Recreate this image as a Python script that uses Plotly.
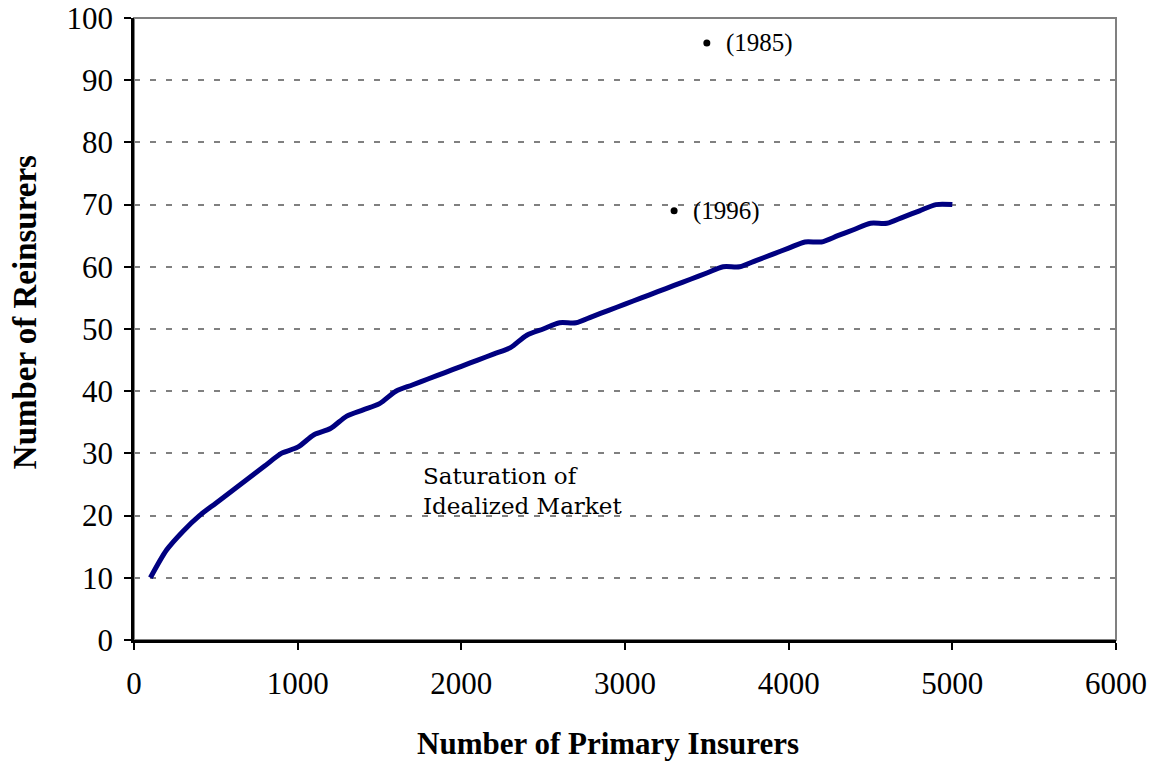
import plotly.graph_objects as go

# ---- data ----
primary_insurers = [100, 200, 300, 400, 500, 600, 700, 800, 900, 1000,
                    1100, 1200, 1300, 1400, 1500, 1600, 1700, 1800, 1900, 2000,
                    2100, 2200, 2300, 2400, 2500, 2600, 2700, 2800, 2900, 3000,
                    3100, 3200, 3300, 3400, 3500, 3600, 3700, 3800, 3900, 4000,
                    4100, 4200, 4300, 4400, 4500, 4600, 4700, 4800, 4900, 5000]
reinsurers = [10, 14.5, 17.5, 20, 22, 24, 26, 28, 30, 31,
              33, 34, 36, 37, 38, 40, 41, 42, 43, 44,
              45, 46, 47, 49, 50, 51, 51, 52, 53, 54,
              55, 56, 57, 58, 59, 60, 60, 61, 62, 63,
              64, 64, 65, 66, 67, 67, 68, 69, 70, 70]

hist_x = [3500, 3300]
hist_y = [96, 69]
hist_labels = ["(1985)", "(1996)"]

x_ticks = [0, 1000, 2000, 3000, 4000, 5000, 6000]
y_ticks = [0, 10, 20, 30, 40, 50, 60, 70, 80, 90, 100]

SERIF = "Liberation Serif"

fig = go.Figure()

fig.add_trace(go.Scatter(
    x=primary_insurers, y=reinsurers, mode="lines",
    line=dict(color="#000080", width=5, shape="spline", smoothing=0.8),
    showlegend=False, hoverinfo="skip"))

fig.add_trace(go.Scatter(
    x=hist_x, y=hist_y, mode="markers",
    marker=dict(color="black", size=7),
    showlegend=False, hoverinfo="skip"))

for hx, hy, lab in zip(hist_x, hist_y, hist_labels):
    fig.add_annotation(x=hx, y=hy, text=lab, showarrow=False,
                       xanchor="left", yanchor="middle", xshift=17,
                       font=dict(family=SERIF, size=25, color="black"))

fig.add_annotation(x=1755, y=24, text="Saturation of<br>Idealized Market",
                   showarrow=False, xanchor="left", yanchor="middle", align="left",
                   font=dict(family="DejaVu Serif", size=23, color="black"))

# axis titles
fig.add_annotation(xref="paper", yref="paper", x=0.483, y=-0.167,
                   text="Number of Primary Insurers", showarrow=False,
                   xanchor="center", yanchor="middle",
                   font=dict(family=SERIF, size=31, color="black", weight="bold"))
fig.add_annotation(xref="paper", yref="paper", x=-0.111, y=0.527,
                   text="Number of Reinsurers", showarrow=False, textangle=-90,
                   xanchor="center", yanchor="middle",
                   font=dict(family=SERIF, size=33, color="black", weight="bold"))

# gray frame (top/right)
fig.add_shape(type="rect", xref="paper", yref="paper", x0=0, y0=0, x1=1, y1=1,
              line=dict(color="#808080", width=2), layer="below")

fig.update_xaxes(
    range=[0, 6000], tickvals=x_ticks, ticktext=[str(v) for v in x_ticks],
    showline=True, linecolor="black", linewidth=2.5,
    ticks="outside", ticklen=7, tickwidth=2, tickcolor="black",
    showgrid=False, zeroline=False, automargin=False, ticklabelstandoff=7,
    tickfont=dict(family=SERIF, size=31, color="black"))

fig.update_yaxes(
    range=[0, 100], tickvals=y_ticks, ticktext=[str(v) for v in y_ticks],
    showline=True, linecolor="black", linewidth=2.5,
    ticks="outside", ticklen=7, tickwidth=2, tickcolor="black",
    showgrid=True, gridcolor="#808080", gridwidth=2, griddash="6px,10px",
    zeroline=False, automargin=False, ticklabelstandoff=5,
    tickfont=dict(family=SERIF, size=31, color="black"))

fig.update_layout(
    width=1156, height=764,
    margin=dict(l=134, r=40, t=18, b=124, autoexpand=False),
    paper_bgcolor="white", plot_bgcolor="white",
)

fig.write_html("out.html", config={"displayModeBar": False},
               post_script="document.body.style.margin='0';")
